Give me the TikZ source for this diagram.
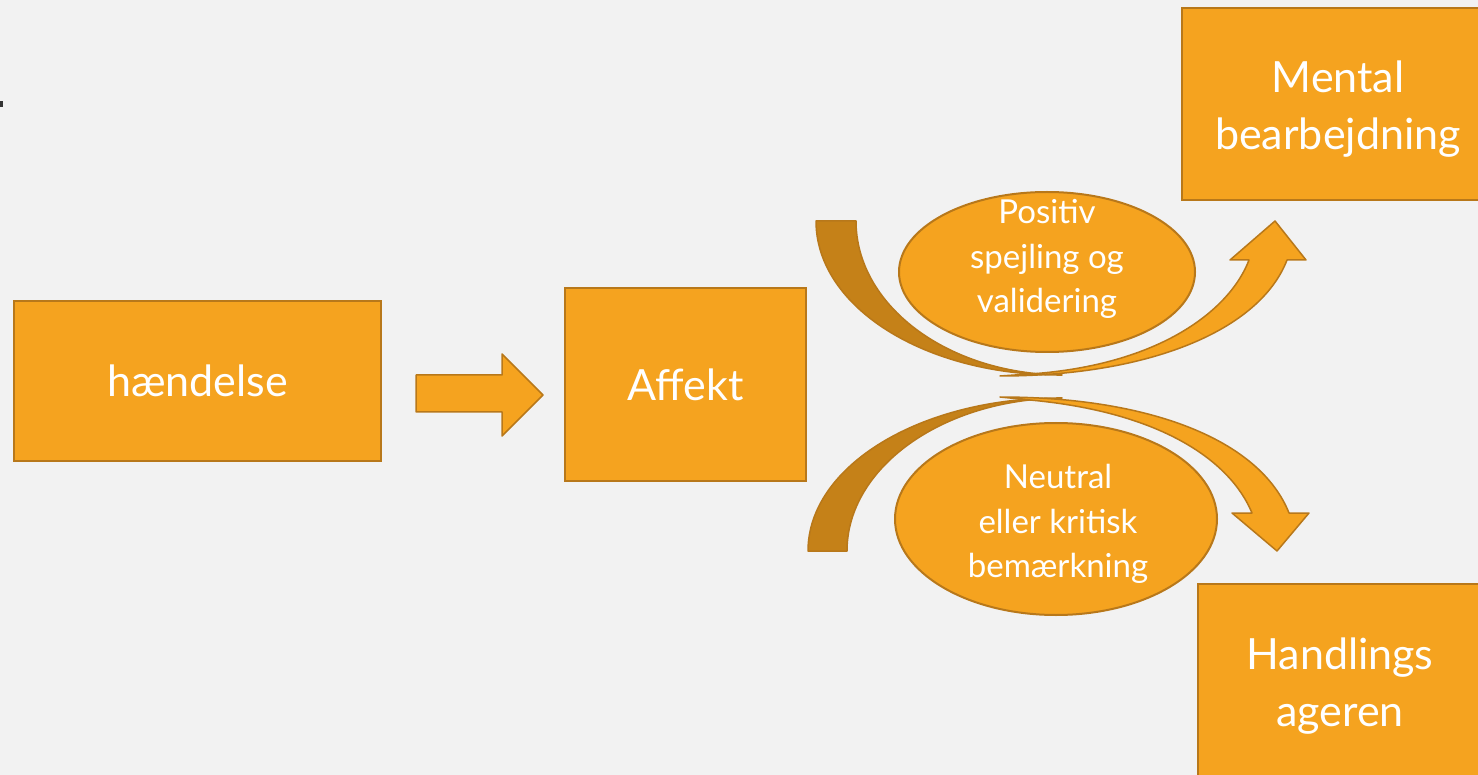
\documentclass[tikz,border=0pt]{standalone}
\usepackage{fontspec}
\setmainfont{Lato}
\usetikzlibrary{shapes.geometric}
\definecolor{bg}{HTML}{F2F2F2}
\definecolor{org}{HTML}{F5A31F}
\definecolor{edge}{HTML}{B8781A}
\definecolor{darkband}{HTML}{C58118}
\begin{document}
\begin{tikzpicture}[x=1pt,y=-1pt,
  box/.style={draw=edge, fill=org, line width=2pt, text=white, align=center,
    font=\fontsize{43}{57}\selectfont, inner sep=0pt},
  boxtext/.style={text=white, align=center, font=\fontsize{43}{57}\selectfont, inner sep=0pt},
  ell/.style={ellipse, draw=edge, fill=org, line width=2pt, inner sep=0pt},
  elltext/.style={text=white, align=center, font=\fontsize{33}{44.5}\selectfont, inner sep=0pt},
  band/.style={draw=edge, line width=1.5pt, line join=round}]
\useasboundingbox (0,0) rectangle (1478,775);
\fill[bg] (0,0) rectangle (1478,775);
\clip (0,0) rectangle (1478,775);
\fill[black!80] (0,101) rectangle (3,107);
% boxes
\node[box, minimum width=367pt, minimum height=160pt] (ev) at (197.5,381) {hændelse};
\node[box, minimum width=241pt, minimum height=193pt] (af) at (685.5,384.5) {Affekt};
\node[box, minimum width=312pt, minimum height=192pt] (mb) at (1338,104) {};
\node[boxtext] (mbt) at (1338,109) {Mental\\bearbejdning};
\node[box, minimum width=284pt, minimum height=200pt] (ha) at (1340,684) {};
\node[boxtext] (hat) at (1340,686) {Handlings\\ageren};
% straight arrow
\path[band, fill=org] (416,375) -- (502,375) -- (502,354) -- (543,395) -- (502,436) -- (502,412) -- (416,412) -- cycle;
% top curved arrow
\path[band, fill=darkband] (816,221) -- (856,221) .. controls (856,305) and (947,374) .. (1062,375)
  .. controls (925,376) and (816,307) .. (816,221) -- cycle;
\path[band, fill=org] (1000,376) .. controls (1150,376) and (1260,330) .. (1287,260)
  -- (1306,260) -- (1275,221) -- (1230,260) -- (1249,260)
  .. controls (1230,310) and (1160,365) .. (1030,374) -- cycle;
% bottom curved arrow
\path[band, fill=darkband] (808,551) -- (847,551) .. controls (847,468) and (942,399) .. (1062,398)
  .. controls (921,397) and (808,466) .. (808,551) -- cycle;
\path[band, fill=org] (1000,397) .. controls (1150,397) and (1260,440) .. (1289,513)
  -- (1309,513) -- (1277,551) -- (1232,513) -- (1252,513)
  .. controls (1230,460) and (1160,412) .. (1030,400) -- cycle;
% ellipses
\node[ell, minimum width=296pt, minimum height=160pt] (pos) at (1047,272) {};
\node[elltext] (post) at (1047,259) {Positiv\\spejling og\\validering};
\node[ell, minimum width=322pt, minimum height=192pt] (neu) at (1056,519) {};
\node[elltext] (neut) at (1058,524) {Neutral\\eller kritisk\\bemærkning};
\end{tikzpicture}
\end{document}
